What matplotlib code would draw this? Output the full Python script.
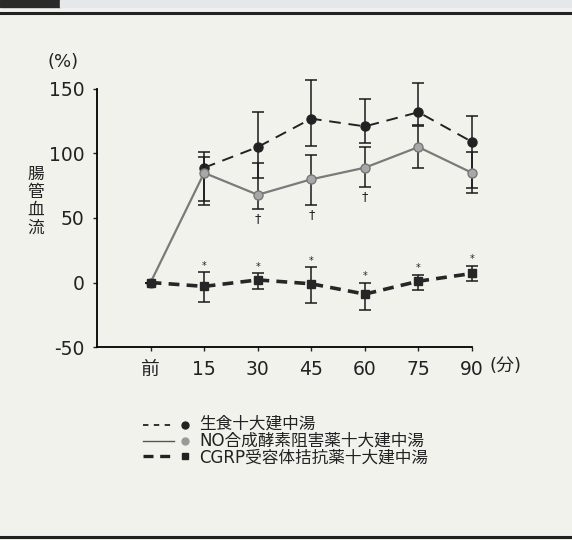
import numpy as np
import matplotlib
matplotlib.use('Agg')
import matplotlib.pyplot as plt
from matplotlib.lines import Line2D
from matplotlib.patches import Rectangle

plt.rcParams['font.family'] = ['DejaVu Sans', 'Noto Sans CJK JP']
plt.rcParams['axes.unicode_minus'] = False

# data
labels = ['前', '15', '30', '45', '60', '75', '90']
raw_vals = [0, 89, 105, 127, 121, 132, 109]
raw_hi = [0, 12, 27, 30, 21, 23, 20]
raw_lo = [0, 26, 24, 21, 13, 10, 36]
no_vals = [0, 85, 68, 80, 89, 105, 85]
no_hi = [0, 12, 25, 19, 16, 16, 16]
no_lo = [0, 25, 11, 20, 15, 16, 16]
cgrp_vals = [0, -3, 2, -1, -9, 1, 7]
cgrp_hi = [0, 11, 5, 13, 9, 5, 6]
cgrp_lo = [0, 12, 7, 15, 12, 7, 6]
dagger_idx = [2, 3, 4]   # NO group
star_idx = [1, 2, 3, 4, 5, 6]   # CGRP group
legend_names = ['生食十大建中湯', 'NO合成酵素阻害薬十大建中湯', 'CGRP受容体拮抗薬十大建中湯']

bg = '#f2f2ed'
fig = plt.figure(figsize=(5.72, 5.4), dpi=100, facecolor=bg)
ax = fig.add_axes([0.1696, 0.3574, 0.6556, 0.4778])
ax.set_facecolor(bg)
x = np.arange(len(labels))

# frame decoration
fig.add_artist(Rectangle((0, 0.987), 0.105, 0.013, transform=fig.transFigure, color='#2a2a2a'))
fig.add_artist(Rectangle((0.105, 0.987), 0.895, 0.013, transform=fig.transFigure, color='#e4e8ea'))
fig.add_artist(Line2D([0, 1], [0.976, 0.976], transform=fig.transFigure, color='#222', lw=2.2))
fig.add_artist(Line2D([0, 1], [0.006, 0.006], transform=fig.transFigure, color='#222', lw=2.2))

eb = dict(ecolor='#1a1a1a', elinewidth=1.1, capsize=4, capthick=1.1)
# raw group: line starts at 15 min (baseline point shared with the others)
c1 = ax.errorbar(x[1:], raw_vals[1:], yerr=[raw_lo[1:], raw_hi[1:]], fmt='o', color='#222', ms=6.5,
                 ls=(0, (6, 4)), lw=1.4, zorder=3, **eb)
c2 = ax.errorbar(x, no_vals, yerr=[no_lo, no_hi], fmt='o', color='#7a7a7a', mfc='#a8a8a8',
                 mec='#777', ms=6.5, ls='-', lw=1.6, zorder=4, **eb)
c3 = ax.errorbar(x, cgrp_vals, yerr=[cgrp_lo, cgrp_hi], fmt='s', color='#262626', ms=6,
                 ls=(0, (3, 2)), lw=2.6, zorder=5, **eb)
for c in (c1, c2, c3):
    for a in c.get_children():
        a.set_clip_on(False)

for i in dagger_idx:
    ax.annotate('†', xy=(x[i], no_vals[i] - no_lo[i]), xytext=(0, -2), textcoords='offset points',
                ha='center', va='top', fontsize=9, color='#222')
for i in star_idx:
    ax.annotate('*', xy=(x[i], cgrp_vals[i] + cgrp_hi[i]), xytext=(0, 1), textcoords='offset points',
                ha='center', va='bottom', fontsize=7, color='#222')

ax.set_xlim(-1, 6)
ax.set_ylim(-50, 150)
ax.set_xticks(x)
ax.set_xticklabels(labels)
ax.set_yticks([-50, 0, 50, 100, 150])
ax.spines['top'].set_visible(False)
ax.spines['right'].set_visible(False)
ax.spines['left'].set_linewidth(1.3)
ax.spines['bottom'].set_linewidth(1.3)
ax.tick_params(labelsize=13.5, length=3, width=1, color='#222', labelcolor='#222', pad=6)

fig.text(0.083, 0.885, '(%)', fontsize=13, color='#222', va='center')
fig.text(0.063, 0.628, '腸\n管\n血\n流', fontsize=12, color='#222', ha='center', va='center',
         linespacing=1.0)
fig.text(0.856, 0.322, '(分)', fontsize=13, color='#222', va='center')

# legend: one text block, sample lines beside each row
rows_y = [0.213, 0.184, 0.155]
styles = [
    dict(ls=(0, (3, 3)), lw=1.3, color='#222', marker='o', mfc='#222', ms=5),
    dict(ls='-', lw=1.0, color='#555', marker='o', mfc='#999', ms=5),
    dict(ls=(0, (3, 2)), lw=2.4, color='#222', marker='s', mfc='#222', ms=5),
]
for yy, st in zip(rows_y, styles):
    fig.add_artist(Line2D([0.250, 0.305], [yy, yy], transform=fig.transFigure,
                          ls=st['ls'], lw=st['lw'], color=st['color']))
    fig.add_artist(Line2D([0.324], [yy], transform=fig.transFigure, ls='none',
                          marker=st['marker'], mfc=st['mfc'], mec=st['mfc'], ms=st['ms']))
fig.text(0.348, rows_y[1], '\n'.join(legend_names), fontsize=12, color='#222',
         va='center', linespacing=0.95)

fig.savefig('out.png', dpi=100, facecolor=bg)
